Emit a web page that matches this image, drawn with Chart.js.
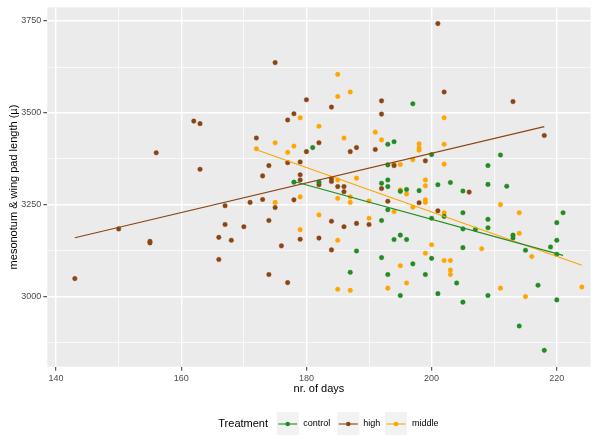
<!DOCTYPE html>
<html><head><meta charset="utf-8">
<script src="https://cdn.jsdelivr.net/npm/chart.js@4.4.0/dist/chart.umd.min.js"></script>
<style>html,body{margin:0;padding:0;background:#fff;}canvas{display:block;}</style>
</head><body>
<canvas id="c" width="595" height="435"></canvas>
<script>
const treatments = ['control', 'high', 'middle'];
const treatmentColors = ['#228B22', '#8B4513', '#FFA500'];

const controlDays   = [181,178,182,197,193,194,200,193,211,209,192,193,193,195,196,198,201,203,205,209,212,188,187,193,192,205,200,202,221,209,209,205,207,220,194,195,196,213,213,220,219,215,220,192,200,205,197,193,199,195,204,201,205,209,217,220,214,218];
const controlLength = [3406,3312,3312,3525,3415,3422,3387,3359,3386,3357,3309,3318,3300,3287,3292,3289,3305,3311,3288,3306,3301,3125,3067,3237,3208,3229,3214,3219,3229,3211,3188,3185,3184,3202,3156,3168,3156,3168,3160,3154,3136,3127,3116,3107,3105,3134,3090,3061,3061,3004,3038,3009,2986,3004,3032,2992,2921,2855];

const highDays   = [156,150,155,155,143,201,175,180,184,178,177,162,163,172,182,180,187,188,191,163,174,177,179,173,179,179,182,184,184,185,186,186,192,192,202,213,218,199,194,192,206,171,173,175,178,167,174,184,186,188,190,167,170,166,168,179,182,176,184,166,174,177,193,198,201];
const highLength = [3392,3185,3147,3151,3050,3743,3637,3536,3516,3498,3481,3478,3471,3432,3419,3395,3395,3406,3401,3347,3357,3365,3367,3329,3332,3318,3305,3322,3314,3300,3300,3286,3533,3497,3557,3531,3439,3370,3357,3295,3285,3257,3265,3243,3264,3248,3208,3206,3191,3200,3197,3197,3191,3162,3154,3157,3160,3139,3128,3102,3061,3039,3260,3256,3234];

const middleDays   = [185,185,187,179,182,191,175,178,186,172,177,185,188,202,192,198,198,198,202,197,194,195,202,195,196,199,199,175,179,185,187,187,190,182,190,179,185,185,187,199,199,197,194,202,211,214,214,216,200,199,208,202,203,195,203,203,193,196,211,215,224];
const middleLength = [3605,3545,3557,3487,3464,3448,3419,3410,3432,3403,3393,3318,3323,3487,3427,3416,3405,3399,3415,3373,3361,3360,3361,3291,3280,3318,3302,3257,3272,3268,3272,3257,3261,3223,3214,3183,3154,3021,3018,3264,3257,3244,3232,3229,3251,3229,3173,3110,3142,3119,3131,3099,3099,3085,3073,3061,3024,3038,3024,3001,3027];

// fitted (lm) lines: start/end
const controlFitDays = [178, 221], controlFitLength = [3314, 3113];
const highFitDays    = [143, 218], highFitLength    = [3161, 3463];
const middleFitDays  = [172, 224], middleFitLength  = [3400, 3086];

const xTickValues = [140, 160, 180, 200, 220];
const yTickValues = [3000, 3250, 3500, 3750];
const xTitle = 'nr. of days';
const yTitle = 'mesonotum & wing pad length (µ)';
const legendTitle = 'Treatment';

const toPts = (xs, ys) => xs.map((x, i) => ({x: x, y: ys[i]}));
const withMinors = (arr) => {
  const out = [];
  const step = arr[1] - arr[0];
  out.push(arr[0] - step / 2);
  arr.forEach(v => { out.push(v); out.push(v + step / 2); });
  return out;
};
const xGrid = withMinors(xTickValues);
const yGrid = withMinors(yTickValues);

Chart.defaults.font.family = "'Liberation Sans', Arial, sans-serif";

const pointSets = [
  [controlDays, controlLength],
  [highDays, highLength],
  [middleDays, middleLength]
];
const fitSets = [
  [controlFitDays, controlFitLength],
  [highFitDays, highFitLength],
  [middleFitDays, middleFitLength]
];

const datasets = [];
fitSets.forEach((s, i) => datasets.push({
  type: 'line', label: treatments[i] + ' fit', data: toPts(s[0], s[1]),
  borderColor: treatmentColors[i], borderWidth: 1.1, pointRadius: 0, fill: false, showLine: true
}));
pointSets.forEach((s, i) => datasets.push({
  type: 'scatter', label: treatments[i], data: toPts(s[0], s[1]),
  backgroundColor: treatmentColors[i], borderColor: treatmentColors[i],
  pointRadius: 2.3, pointBorderWidth: 0.4
}));

const panelBg = {
  id: 'panelBg',
  beforeDraw(chart) {
    const {ctx, chartArea: a} = chart;
    ctx.save();
    ctx.fillStyle = '#EBEBEB';
    ctx.fillRect(a.left, a.top, a.right - a.left, a.bottom - a.top);
    ctx.restore();
  }
};

const ggLegend = {
  id: 'ggLegend',
  afterDraw(chart) {
    const ctx = chart.ctx;
    const cy = 424;
    ctx.save();
    ctx.textBaseline = 'middle';
    ctx.textAlign = 'left';
    ctx.fillStyle = '#000';
    ctx.font = "11px 'Liberation Sans', Arial, sans-serif";
    ctx.fillText(legendTitle, 218.3, cy);
    const boxX = [276.7, 337.3, 385];
    const labX = [303.3, 363.3, 412];
    const bw = 22, bh = 23;
    treatments.forEach((t, i) => {
      ctx.fillStyle = '#F2F2F2';
      ctx.fillRect(boxX[i], cy - 12, bw, bh);
      ctx.strokeStyle = treatmentColors[i];
      ctx.lineWidth = 1.1;
      ctx.beginPath();
      ctx.moveTo(boxX[i] + 1.5, cy);
      ctx.lineTo(boxX[i] + bw - 1.5, cy);
      ctx.stroke();
      ctx.fillStyle = treatmentColors[i];
      ctx.beginPath();
      ctx.arc(boxX[i] + bw / 2, cy, 2.3, 0, Math.PI * 2);
      ctx.fill();
      ctx.fillStyle = '#000';
      ctx.font = "9px 'Liberation Sans', Arial, sans-serif";
      ctx.fillText(t, labX[i], cy);
    });
    ctx.restore();
  }
};

const isMajor = (v, majors) => majors.some(m => Math.abs(m - v) < 1e-6);

new Chart(document.getElementById('c').getContext('2d'), {
  type: 'scatter',
  data: {datasets: datasets},
  options: {
    responsive: false,
    animation: false,
    devicePixelRatio: 1,
    layout: {padding: {left: 0, right: 2, top: 6, bottom: 30}},
    plugins: {legend: {display: false}, tooltip: {enabled: false}},
    scales: {
      x: {
        type: 'linear', min: 138.6, max: 225.4,
        afterBuildTicks: s => { s.ticks = xGrid.filter(v => v >= s.min && v <= s.max).map(v => ({value: v})); },
        afterFit: s => { s.height = 38.3; },
        border: {display: false},
        ticks: {
          autoSkip: false, maxRotation: 0, minRotation: 0, padding: 2,
          color: '#4D4D4D', font: {size: 9},
          callback: v => isMajor(v, xTickValues) ? String(v) : ''
        },
        grid: {
          color: '#FFFFFF',
          lineWidth: c => (c.tick && isMajor(c.tick.value, xTickValues)) ? 1.4 : 0.7,
          tickLength: 4, tickWidth: 1,
          tickColor: c => (c.tick && isMajor(c.tick.value, xTickValues)) ? '#333333' : 'rgba(0,0,0,0)'
        },
        title: {display: true, text: xTitle, color: '#000', font: {size: 11}, padding: {top: 0, bottom: 9.4}}
      },
      y: {
        type: 'linear', min: 2810.5, max: 3787,
        afterBuildTicks: s => { s.ticks = yGrid.filter(v => v >= s.min && v <= s.max).map(v => ({value: v})); },
        afterFit: s => { s.width = 47.3; },
        border: {display: false},
        ticks: {
          autoSkip: false, padding: 2,
          color: '#4D4D4D', font: {size: 9},
          callback: v => isMajor(v, yTickValues) ? String(v) : ''
        },
        grid: {
          color: '#FFFFFF',
          lineWidth: c => (c.tick && isMajor(c.tick.value, yTickValues)) ? 1.4 : 0.7,
          tickLength: 4, tickWidth: 1,
          tickColor: c => (c.tick && isMajor(c.tick.value, yTickValues)) ? '#333333' : 'rgba(0,0,0,0)'
        },
        title: {display: true, text: yTitle, color: '#000', font: {size: 11}, padding: {top: 7.4, bottom: 0}}
      }
    }
  },
  plugins: [panelBg, ggLegend]
});
</script>
</body></html>
